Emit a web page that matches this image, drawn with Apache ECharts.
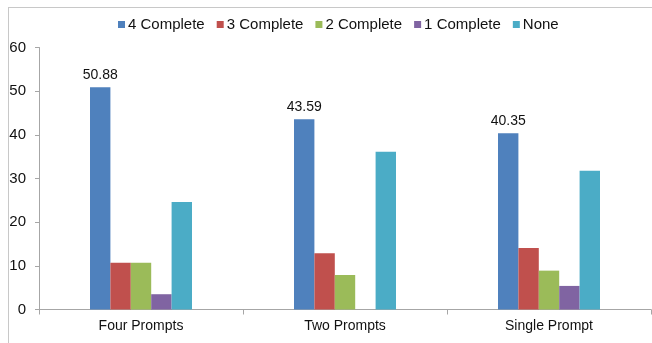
<!DOCTYPE html>
<html>
<head>
<meta charset="utf-8">
<script src="https://cdn.jsdelivr.net/npm/echarts@6/dist/echarts.min.js"></script>
<style>
  html, body { margin: 0; padding: 0; background: #fff; }
  #chart { width: 652px; height: 343px; position: relative; }
  #frame { position: absolute; left: 8px; top: 7px; width: 700px; height: 400px;
           border-left: 1px solid #c8c8c8; border-top: 1px solid #c8c8c8; pointer-events: none; }
</style>
</head>
<body>
<div id="chart"></div>
<div id="frame"></div>
<script>
// Prompt conditions on the x axis
const categories = ['Four Prompts', 'Two Prompts', 'Single Prompt'];

// Percentage of responses by number of completed parts
const seriesNames = ['4 Complete', '3 Complete', '2 Complete', '1 Complete', 'None'];
const complete4 = [50.88, 43.59, 40.35];
const complete3 = [10.7, 12.9, 14.1];
const complete2 = [10.7, 7.9, 8.9];
const complete1 = [3.5, 0, 5.4];
const none = [24.6, 36.1, 31.8];

const colors = ['#4F81BD', '#C0504D', '#9BBB59', '#8064A2', '#4BACC6'];
const values = [complete4, complete3, complete2, complete1, none];

const FONT = '"Liberation Sans", Arial, sans-serif';

const chart = echarts.init(document.getElementById('chart'), null, { renderer: 'canvas' });

const series = values.map((vals, i) => ({
  name: seriesNames[i],
  type: 'bar',
  data: vals,
  barGap: '0%',
  barCategoryGap: '50%',
  itemStyle: { color: colors[i] },
  label: i === 0 ? {
    show: true,
    position: 'top',
    distance: 5,
    fontFamily: FONT,
    fontSize: 14,
    color: '#111'
  } : { show: false }
}));

chart.setOption({
  animation: false,
  color: colors,
  legend: {
    top: 12,
    left: 113,
    itemWidth: 7,
    itemHeight: 7,
    itemGap: 12,
    icon: 'rect',
    textStyle: { fontFamily: FONT, fontSize: 15, color: '#111', padding: [0, 0, 0, -2] }
  },
  grid: { left: 39, right: 1, top: 47.5, bottom: 33.5, containLabel: false },
  xAxis: {
    type: 'category',
    data: categories,
    axisLine: { lineStyle: { color: '#a6a6a6', width: 1 } },
    axisTick: { show: true, length: 5, lineStyle: { color: '#a6a6a6' } },
    axisLabel: { margin: 10, fontFamily: FONT, fontSize: 14, color: '#111' }
  },
  yAxis: {
    type: 'value',
    min: 0,
    max: 60,
    interval: 10,
    axisLine: { show: true, lineStyle: { color: '#a6a6a6', width: 1 } },
    axisTick: { show: true, length: 4, lineStyle: { color: '#a6a6a6' } },
    splitLine: { show: false },
    axisLabel: { margin: 13, fontFamily: FONT, fontSize: 15, color: '#111' }
  },
  series: series
});
</script>
</body>
</html>
